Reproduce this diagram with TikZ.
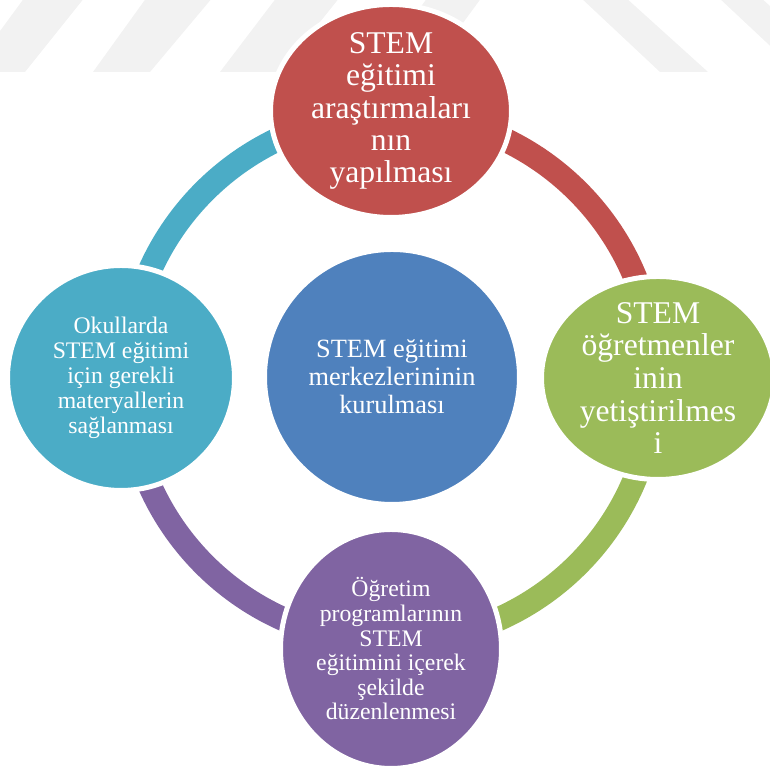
\documentclass[tikz,border=0pt]{standalone}
\usepackage{fontspec}
\setmainfont{Liberation Serif}
\usepackage{tikz}
\usetikzlibrary{shapes.geometric}

\definecolor{ringred}{HTML}{C0504D}
\definecolor{ringgreen}{HTML}{9BBB59}
\definecolor{ringcyan}{HTML}{4BACC6}
\definecolor{ringpurple}{HTML}{8064A2}
\definecolor{ringblue}{HTML}{4F81BD}
\definecolor{markgray}{HTML}{F2F2F2}

\begin{document}
\begin{tikzpicture}[
    ring/.style={line width=0.48cm},
    bubble/.style={ellipse, draw=white, line width=0.1cm, inner sep=0pt},
    bubbletext/.style={align=center, text=white, inner sep=0pt}
  ]

    % Page frame
    \clip (0, 0) rectangle (15.4, 15.34);

    % Faint watermark bands
    \fill[markgray] (0.5, 15.4) -- (1.7, 15.4) -- (0.5, 13.9) -- (-0.6, 13.9) -- cycle;
    \fill[markgray] (2.94, 15.4) -- (4.26, 15.4) -- (3.0, 13.9) -- (1.86, 13.9) -- cycle;
    \fill[markgray] (5.54, 15.4) -- (6.8, 15.4) -- (5.6, 13.9) -- (4.4, 13.9) -- cycle;
    \fill[markgray] (8.56, 15.4) -- (9.64, 15.4) -- (8.54, 13.9) -- (7.46, 13.9) -- cycle;
    \fill[markgray] (11.6, 15.4) -- (12.5, 15.4) -- (14.16, 13.9) -- (13.2, 13.9) -- cycle;
    \fill[markgray] (14.36, 15.4) -- (15.2, 15.4) -- (16.86, 13.9) -- (15.96, 13.9) -- cycle;

    % Middle of the cycle
    \coordinate (hub) at (7.82, 7.78);

    % Ring, one quarter per colour
    \draw[ring, ringcyan] (hub) ++(180:5.28) arc[start angle=180, end angle=90, radius=5.28];
    \draw[ring, ringred] (hub) ++(90:5.28) arc[start angle=90, end angle=0, radius=5.28];
    \draw[ring, ringgreen] (hub) ++(0:5.28) arc[start angle=0, end angle=-90, radius=5.28];
    \draw[ring, ringpurple] (hub) ++(-90:5.28) arc[start angle=-90, end angle=-180, radius=5.28];

    % Top: research
    \node[bubble, fill=ringred, minimum width=4.82cm, minimum height=4.26cm] (research) at (7.82, 13.12) {};
    \node[bubbletext, font=\fontsize{18}{18.4}\selectfont] (research-txt) at (research)
        {STEM\\eğitimi\\araştırmaları\\nın\\yapılması};

    % Right: teachers
    \node[bubble, fill=ringgreen, minimum width=4.66cm, minimum height=4.06cm] (teachers) at (13.16, 7.78) {};
    \node[bubbletext, font=\fontsize{18}{18.6}\selectfont] (teachers-txt) at (teachers)
        {STEM\\öğretmenler\\inin\\yetiştirilmes\\i};

    % Bottom: curricula
    \node[bubble, fill=ringpurple, minimum width=4.42cm, minimum height=4.78cm] (curricula) at (7.82, 2.36) {};
    \node[bubbletext, font=\fontsize{13.5}{14}\selectfont] (curricula-txt) at (curricula)
        {Öğretim\\programlarının\\STEM\\eğitimini içerek\\şekilde\\düzenlenmesi};

    % Left: materials
    \node[bubble, fill=ringcyan, minimum width=4.54cm, minimum height=4.5cm] (materials) at (2.42, 7.78) {};
    \node[bubbletext, font=\fontsize{13.5}{14.2}\selectfont] (materials-txt) at (materials)
        {Okullarda\\STEM eğitimi\\için gerekli\\materyallerin\\sağlanması};

    % Centre: STEM centres
    \node[bubble, fill=ringblue, minimum width=5.1cm, minimum height=5.1cm] (centres) at (7.84, 7.8) {};
    \node[bubbletext, font=\fontsize{15}{16}\selectfont] (centres-txt) at (centres)
        {STEM eğitimi\\merkezlerininin\\kurulması};

\end{tikzpicture}
\end{document}
